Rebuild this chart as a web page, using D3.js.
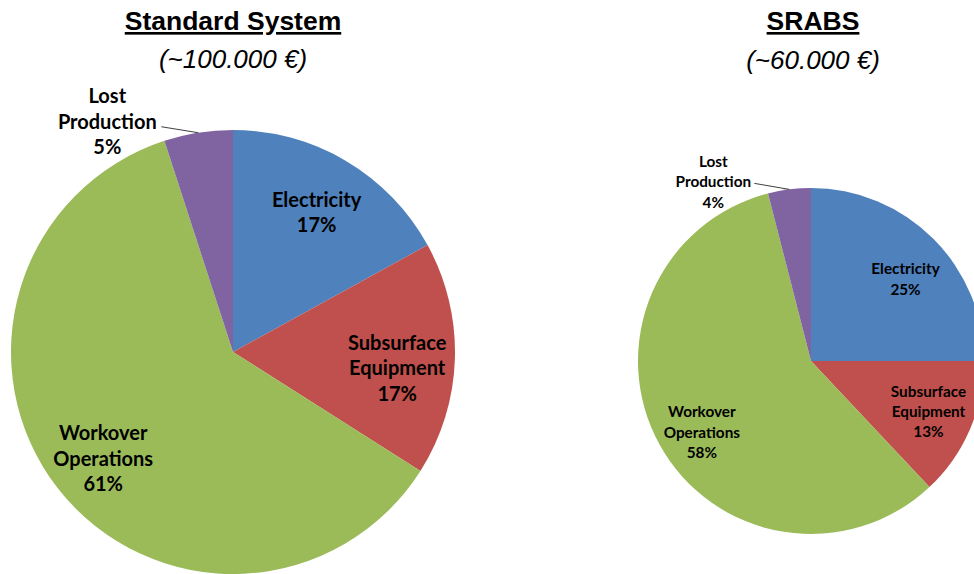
<!DOCTYPE html>
<html>
<head>
<meta charset="utf-8">
<script src="https://cdn.jsdelivr.net/npm/d3@7"></script>
<style>
  html, body { margin: 0; padding: 0; background: #fff; }
  svg { display: block; }
</style>
</head>
<body>
<svg id="chart" width="974" height="574"></svg>
<script>
// ---- data ----
const categories = ["Electricity", "Subsurface Equipment", "Workover Operations", "Lost Production"];
const standardValues = [17, 17, 61, 5];
const srabsValues = [25, 13, 58, 4];
const chartTitles = ["Standard System", "SRABS"];
const chartSubtitles = ["(~100.000 €)", "(~60.000 €)"];
const colors = ["#4F81BD", "#C0504D", "#9BBB59", "#8064A2"];

const svg = d3.select("#chart");

// layout (positions / sizes only)
const pies = [
  { title: chartTitles[0], sub: chartSubtitles[0], values: standardValues,
    cx: 233, cy: 352, r: 222, tx: 233, ty: 30, sy: 68, fs: 20, lh: 25.5,
    nudge: [[0, 1], [0, 10], [0, 5]],
    lostOffset: [-91, -12], lostLine: [-37, -6] },
  { title: chartTitles[1], sub: chartSubtitles[1], values: srabsValues,
    cx: 811, cy: 361, r: 173, tx: 813, ty: 30, sy: 69, fs: 15.3, lh: 20.3,
    nudge: [[4, 8], [0, -1], [3, 9]],
    lostOffset: [-76, -8], lostLine: [-35, -6] }
];

const pie = d3.pie().sort(null).value(d => d.value);

function labelLines(name, value) {
  const words = name.split(" ");
  return [...words, value + "%"];
}

pies.forEach(p => {
  // titles
  svg.append("text")
    .attr("x", p.tx).attr("y", p.ty)
    .attr("text-anchor", "middle")
    .style("font-family", "'Liberation Sans', Arial, sans-serif")
    .style("font-weight", "bold")
    .style("font-size", "26.5px")
    .style("text-decoration", "underline")
    .attr("fill", "#000")
    .text(p.title);
  svg.append("text")
    .attr("x", p.tx).attr("y", p.sy)
    .attr("text-anchor", "middle")
    .style("font-family", "'Liberation Sans', Arial, sans-serif")
    .style("font-style", "italic")
    .style("font-size", "26px")
    .attr("fill", "#000")
    .text(p.sub);

  const data = categories.map((c, i) => ({ name: c, value: p.values[i], color: colors[i] }));
  const arcs = pie(data);
  const arc = d3.arc().innerRadius(0).outerRadius(p.r);
  const labelArc = d3.arc().innerRadius(p.r * 0.74).outerRadius(p.r * 0.74);
  const outerArc = d3.arc().innerRadius(p.r).outerRadius(p.r);

  const g = svg.append("g").attr("transform", `translate(${p.cx},${p.cy})`);
  g.selectAll("path.slice").data(arcs).enter().append("path")
    .attr("class", "slice")
    .attr("d", arc)
    .attr("fill", d => d.data.color);

  arcs.forEach((a, idx) => {
    const lines = labelLines(a.data.name, a.data.value);
    let cx, cy;
    if (a.data.name === "Lost Production") {
      const [ox, oy] = outerArc.centroid(a);
      cx = ox + p.lostOffset[0];
      cy = oy + p.lostOffset[1];
      g.append("line")
        .attr("x1", ox + p.lostLine[0]).attr("y1", oy + p.lostLine[1])
        .attr("x2", ox).attr("y2", oy)
        .attr("stroke", "#404040").attr("stroke-width", 1);
    } else {
      [cx, cy] = labelArc.centroid(a);
      cx += p.nudge[idx][0];
      cy += p.nudge[idx][1];
    }
    const t = g.append("text")
      .attr("text-anchor", "middle")
      .style("font-family", "Lato, 'Noto Sans', sans-serif")
      .style("font-weight", "bold")
      .style("font-size", p.fs + "px")
      .attr("fill", "#000");
    const n = lines.length;
    lines.forEach((ln, i) => {
      t.append("tspan")
        .attr("x", cx)
        .attr("y", cy + (i - (n - 1) / 2) * p.lh)
        .attr("dominant-baseline", "central")
        .text(ln);
    });
  });
});
</script>
</body>
</html>
